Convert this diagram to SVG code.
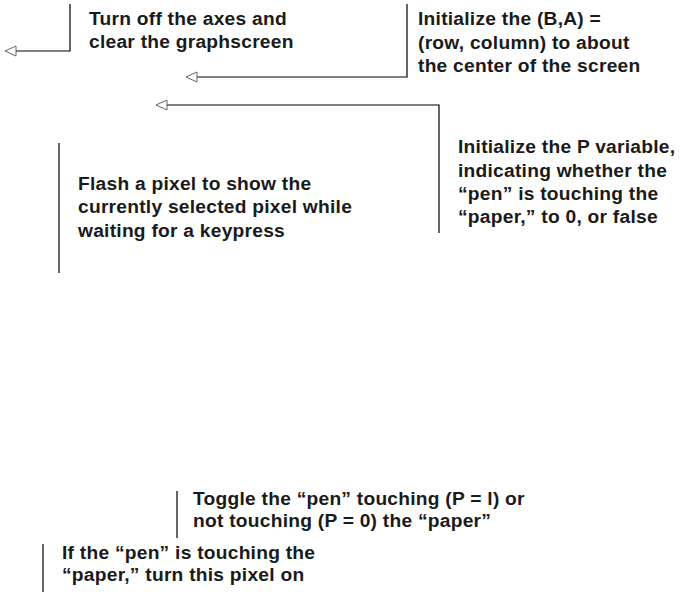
<svg xmlns="http://www.w3.org/2000/svg" width="680" height="592" viewBox="0 0 680 592">
  <style>
    .note { font-family: "Liberation Sans", Arial, sans-serif; font-weight: bold; font-size: 19.2px; letter-spacing: 0.25px; fill: #1a1a1a; }
    .lead { fill: none; stroke: #000; stroke-width: 1.2; }
  </style>
  <defs>
    <marker id="open-tri" markerUnits="userSpaceOnUse" markerWidth="13" markerHeight="12" refX="0" refY="5" orient="auto" overflow="visible">
      <path d="M0,0 L11,5 L0,10 Z" fill="#fff" stroke="#555" stroke-width="0.9"/>
    </marker>
  </defs>

  <!-- leader lines -->
  <g id="connectors">
    <path class="lead" d="M70,4 V51 H16" marker-end="url(#open-tri)"/>
    <path class="lead" d="M407,4 V77 H197" marker-end="url(#open-tri)"/>
    <path class="lead" d="M439,233 V105 H167" marker-end="url(#open-tri)"/>
    <path class="lead" d="M59,143 V273"/>
    <path class="lead" d="M177,491 V538"/>
    <path class="lead" d="M43,544 V592"/>
  </g>

  <g id="note-axes">
    <text class="note" x="89" y="25">Turn off the axes and<tspan x="89" dy="23">clear the graphscreen</tspan></text>
  </g>

  <g id="note-center">
    <text class="note" x="418" y="25">Initialize the (B,A) =<tspan x="418" dy="24">(row, column) to about</tspan><tspan x="418" dy="23">the center of the screen</tspan></text>
  </g>

  <g id="note-pen-var">
    <text class="note" x="458" y="153">Initialize the P variable,<tspan x="458" dy="24">indicating whether the</tspan><tspan x="458" dy="23">“pen” is touching the</tspan><tspan x="458" dy="23">“paper,” to 0, or false</tspan></text>
  </g>

  <g id="note-flash">
    <text class="note" x="78" y="190">Flash a pixel to show the<tspan x="78" dy="23">currently selected pixel while</tspan><tspan x="78" dy="24">waiting for a keypress</tspan></text>
  </g>

  <g id="note-toggle">
    <text class="note" x="193" y="505">Toggle the “pen” touching (P = l) or<tspan x="193" dy="21.5">not touching (P = 0) the “paper”</tspan></text>
  </g>

  <g id="note-pixel-on">
    <text class="note" x="62" y="559">If the “pen” is touching the<tspan x="62" dy="21.5">“paper,” turn this pixel on</tspan></text>
  </g>
</svg>
